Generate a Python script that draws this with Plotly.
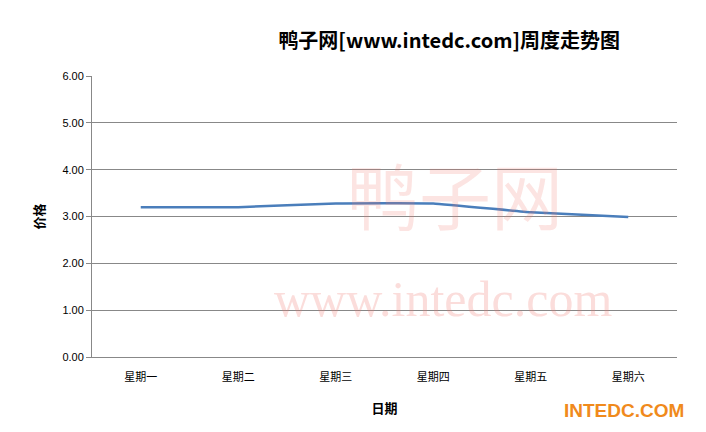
import plotly.graph_objects as go

days = ["星期一", "星期二", "星期三", "星期四", "星期五", "星期六"]
prices = [3.20, 3.20, 3.28, 3.28, 3.09, 2.99]
yticks = [0, 1, 2, 3, 4, 5, 6]

fig = go.Figure(go.Scatter(x=days, y=prices, mode="lines",
                           line=dict(color="#4a7ebb", width=2.5, shape="spline", smoothing=0.3)))
fig.update_layout(
    width=706, height=432, paper_bgcolor="white", plot_bgcolor="white",
    margin=dict(l=84, r=37, t=68, b=83), showlegend=False,
    title=dict(text="<b>鸭子网[www.intedc.com]周度走势图</b>", x=0.625, xanchor="center", y=0.94,
               font=dict(size=20, family="Noto Sans CJK SC", color="black")),
    xaxis=dict(title=dict(text="<b>日期</b>", font=dict(size=13, family="Noto Sans CJK SC", color="black"), standoff=20),
               range=[-0.5, 5.5], showline=True, linecolor="#888", ticks="", ticklabelstandoff=10,
               tickfont=dict(size=11, family="Noto Sans CJK SC", color="black"), showgrid=False),
    yaxis=dict(title=dict(text="<b>价格</b>", font=dict(size=13, family="Noto Sans CJK SC", color="black"), standoff=14),
               range=[0, 6], tickvals=yticks, tickformat=".2f", showline=True, linecolor="#888",
               ticks="outside", tickcolor="#888", gridcolor="#888", gridwidth=1,
               tickfont=dict(size=11, family="Liberation Sans", color="black")),
)
fig.add_annotation(text="www.intedc.com", xref="paper", yref="paper", x=0.6, y=0.1, showarrow=False,
                   font=dict(size=50, family="Liberation Serif", color="rgba(240,120,110,0.25)"))
fig.add_annotation(text="鸭子网", xref="paper", yref="paper", x=0.62, y=0.78, showarrow=False,
                   font=dict(size=72, family="Noto Sans CJK SC", color="rgba(240,120,110,0.2)"))
fig.add_annotation(text="<b>INTEDC.COM</b>", xref="paper", yref="paper", x=1.015, y=-0.235, xanchor="right",
                   showarrow=False, font=dict(size=19, family="Liberation Sans", color="#f08a1c"))
fig.write_html("out.html")
